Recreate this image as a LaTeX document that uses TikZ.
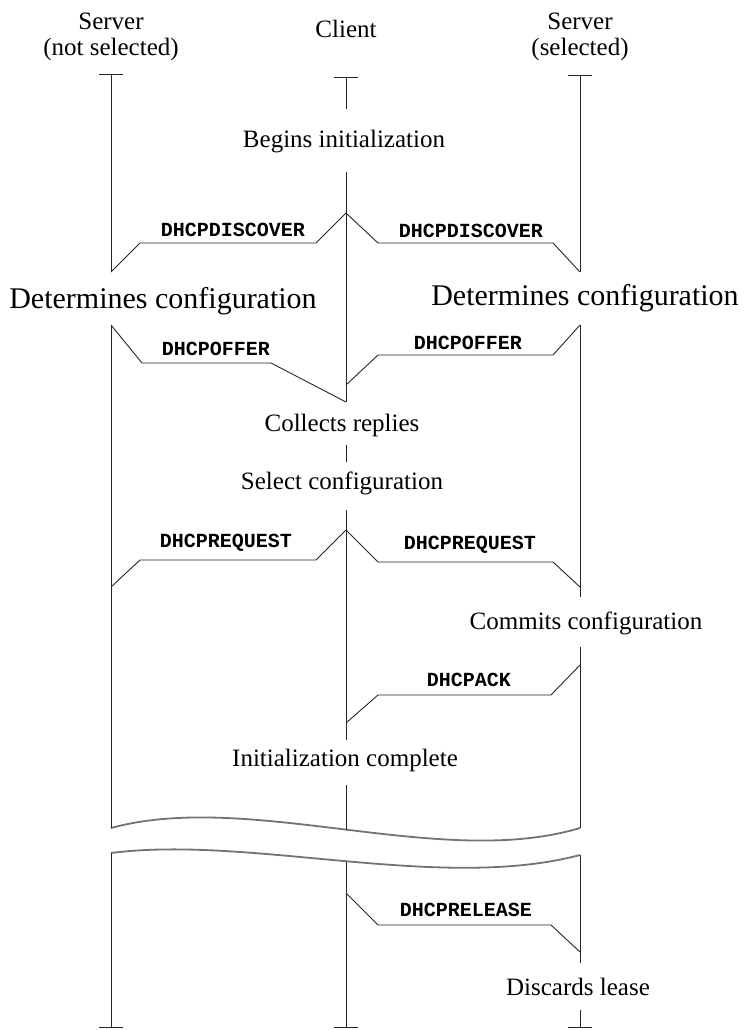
\documentclass[tikz,border=0pt]{standalone}
\usepackage{fontspec}
\setmainfont{Liberation Serif}
\setmonofont{Liberation Mono}

\begin{document}
\begin{tikzpicture}[
  x=1pt, y=-1pt,
  line/.style={line width=0.9pt, black!85},
  wave/.style={line width=1.8pt, black!55},
  state/.style={inner sep=0pt, font=\fontsize{25}{27}\selectfont},
  bigstate/.style={inner sep=0pt, font=\fontsize{30}{32}\selectfont},
  head/.style={inner sep=0pt, align=center, font=\fontsize{25}{26}\selectfont},
  msg/.style={inner sep=0pt, font=\ttfamily\bfseries\fontsize{20}{21}\selectfont}
]
\useasboundingbox (0,0) rectangle (745,1030);

% headers
\node[head] (srvA) at (111,37) {Server\\(not selected)};
\node[head] (cli) at (346,29) {Client};
\node[head] (srvB) at (580,37) {Server\\(selected)};

% ends of the lifelines
\coordinate (topA) at (111,74);
\coordinate (topC) at (346,77);
\coordinate (topB) at (580,75);
\coordinate (botA) at (111,1027);
\coordinate (botC) at (346,1027);
\coordinate (botB) at (580,1027);
\foreach \t in {topA,topC,topB,botA,botC,botB}
  \draw[line] ([xshift=-12pt]\t) -- ([xshift=12pt]\t);

% what each side does
\node[state] (begin) at (344,142) {Begins initialization};
\node[bigstate] (detA) at (163,301) {Determines configuration};
\node[bigstate] (detB) at (585,298) {Determines configuration};
\node[state] (collect) at (342,425) {Collects replies};
\node[state] (select) at (342,483) {Select configuration};
\node[state] (commit) at (586,623) {Commits configuration};
\node[state] (done) at (345,760) {Initialization complete};
\node[state] (discard) at (578,987) {Discards lease};

% where the messages leave and arrive
\coordinate (discC) at (346,213);
\coordinate (discA) at (111,272);
\coordinate (discB) at (580,272);
\coordinate (offA) at (111,325);
\coordinate (offB) at (580,325);
\coordinate (offCa) at (346,402);
\coordinate (offCb) at (346,385);
\coordinate (reqC) at (346,530);
\coordinate (reqA) at (111,587);
\coordinate (reqB) at (580,587);
\coordinate (ackB) at (580,665);
\coordinate (ackC) at (346,723);
\coordinate (relC) at (346,893);
\coordinate (relB) at (580,952);

% the break
\coordinate (wA1) at (111,828);
\coordinate (wC1) at (346,830);
\coordinate (wB1) at (580,828);
\coordinate (wA2) at (111,853);
\coordinate (wC2) at (346,862);
\coordinate (wB2) at (580,855);
\draw[wave] (wA1) .. controls (250,790) and (440,870) .. (wB1);
\draw[wave] (wA2) .. controls (250,835) and (440,892) .. (wB2);

% lifeline gaps
\foreach \n/\y in {c1/109,c2/172,c3/445,c4/462,c5/510,c6/740,c7/785}
  \coordinate (\n) at (346,\y);
\foreach \n/\y in {b1/597,b2/647,b3/963,b4/1010}
  \coordinate (\n) at (580,\y);

% lifelines
\draw[line] (topC) -- (c1);
\draw[line] (c2) -- (offCa);
\draw[line] (c3) -- (c4);
\draw[line] (c5) -- (c6);
\draw[line] (c7) -- (wC1);
\draw[line] (wC2) -- (botC);
\draw[line] (topA) -- (discA);
\draw[line] (offA) -- (wA1);
\draw[line] (wA2) -- (botA);
\draw[line] (topB) -- (discB);
\draw[line] (offB) -- (b1);
\draw[line] (b2) -- (wB1);
\draw[line] (wB2) -- (b3);
\draw[line] (b4) -- (botB);

% messages
\draw[line] (discC) -- ++(-30,30) -- ++(-176,0) -- (discA);
\draw[line] (discC) -- ++(32,30) -- ++(175,0) -- (discB);
\draw[line] (offA) -- ++(31,38) -- ++(129,0) -- (offCa);
\draw[line] (offB) -- ++(-27,30) -- ++(-175,0) -- (offCb);
\draw[line] (reqC) -- ++(-30,30) -- ++(-176,0) -- (reqA);
\draw[line] (reqC) -- ++(32,32) -- ++(175,0) -- (reqB);
\draw[line] (ackB) -- ++(-29,30) -- ++(-173,0) -- (ackC);
\draw[line] (relC) -- ++(32,32) -- ++(173,0) -- (relB);

\node[msg] (lDiscA) at (233,230) {DHCPDISCOVER};
\node[msg] (lDiscB) at (471,231) {DHCPDISCOVER};
\node[msg] (lOffA) at (216,349) {DHCPOFFER};
\node[msg] (lOffB) at (468,343) {DHCPOFFER};
\node[msg] (lReqA) at (226,543) {DHCPREQUEST};
\node[msg] (lReqB) at (470,545) {DHCPREQUEST};
\node[msg] (lAck) at (469,680) {DHCPACK};
\node[msg] (lRel) at (466,910) {DHCPRELEASE};
\end{tikzpicture}
\end{document}
